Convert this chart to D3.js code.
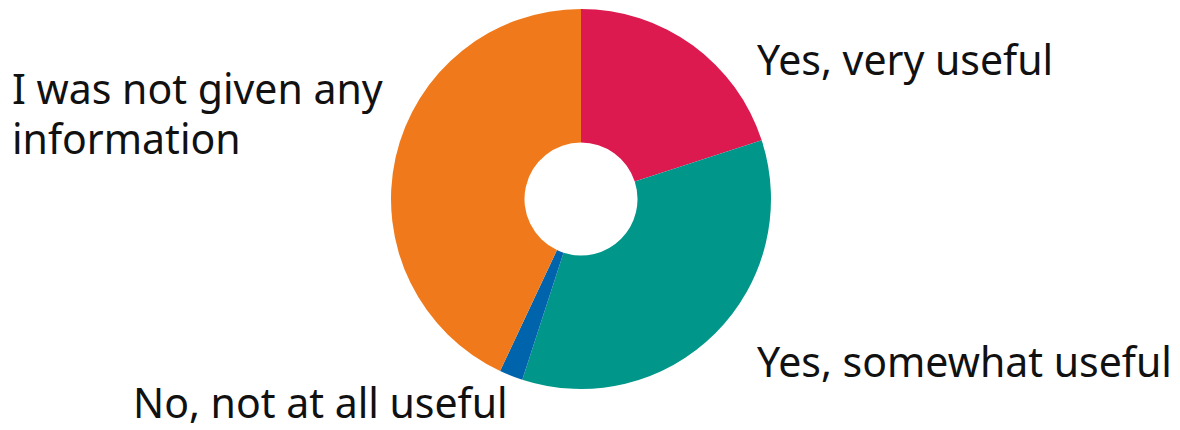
<!DOCTYPE html>
<html>
<head>
<meta charset="utf-8">
<script src="https://cdn.jsdelivr.net/npm/d3@7"></script>
<style>
  html, body { margin: 0; padding: 0; background: #fff; }
  svg { display: block; }
  text { font-family: "Noto Sans", "Open Sans", sans-serif; fill: #111; }
</style>
</head>
<body>
<svg id="chart" width="1180" height="430"></svg>
<script>
// Survey answers, in clockwise order from twelve o'clock
const categories = [
  "Yes, very useful",
  "Yes, somewhat useful",
  "No, not at all useful",
  "I was not given any information"
];
const values = [20, 35, 2, 43];
const colors = ["#dc1a4f", "#00978a", "#0064ad", "#f07a1b"];

// Label lines and anchor points for each answer
const labelLines = [
  ["Yes, very useful"],
  ["Yes, somewhat useful"],
  ["No, not at all useful"],
  ["I was not given any", "information"]
];
const labelPos = [
  [757, 75],
  [757, 377],
  [133, 418],
  [12, 104]
];

const svg = d3.select("#chart");
const cx = 581, cy = 199, outerR = 190, innerR = 56.5;

const pie = d3.pie().sort(null).value(d => d.value);
const arc = d3.arc().innerRadius(innerR).outerRadius(outerR);

const data = categories.map((c, i) => ({ category: c, value: values[i], color: colors[i] }));

svg.append("g")
  .attr("transform", `translate(${cx},${cy})`)
  .selectAll("path")
  .data(pie(data))
  .join("path")
  .attr("d", arc)
  .attr("fill", d => d.data.color);

const labels = svg.append("g");
labelLines.forEach((lines, i) => {
  const t = labels.append("text")
    .attr("x", labelPos[i][0])
    .attr("y", labelPos[i][1])
    .attr("font-size", 41);
  lines.forEach((line, j) => {
    t.append("tspan")
      .attr("x", labelPos[i][0])
      .attr("dy", j === 0 ? 0 : 50)
      .text(line);
  });
});
</script>
</body>
</html>
